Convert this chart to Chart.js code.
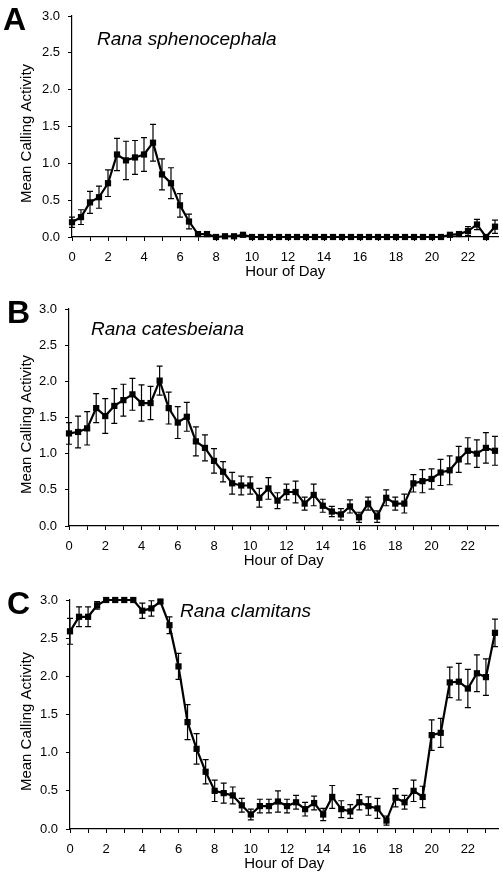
<!DOCTYPE html>
<html>
<head>
<meta charset="utf-8">
<script src="https://cdn.jsdelivr.net/npm/chart.js@4.4.1/dist/chart.umd.min.js"></script>
<style>
  body { margin: 0; background: #fff; width: 503px; height: 877px; overflow: hidden; position: relative; }
  canvas { position: absolute; left: 0; }
</style>
</head>
<body>
<canvas id="chartA" width="503" height="287" style="top:0px"></canvas>
<canvas id="chartB" width="503" height="283" style="top:293px"></canvas>
<canvas id="chartC" width="503" height="295" style="top:584px"></canvas>
<script>
// hour of day, every half hour
const hours = [0, 0.5, 1, 1.5, 2, 2.5, 3, 3.5, 4, 4.5, 5, 5.5, 6, 6.5, 7, 7.5,
               8, 8.5, 9, 9.5, 10, 10.5, 11, 11.5, 12, 12.5, 13, 13.5, 14, 14.5, 15, 15.5,
               16, 16.5, 17, 17.5, 18, 18.5, 19, 19.5, 20, 20.5, 21, 21.5, 22, 22.5, 23, 23.5];
const xTicks = [0, 2, 4, 6, 8, 10, 12, 14, 16, 18, 20, 22];
const yTicks = [0, 0.5, 1, 1.5, 2, 2.5, 3];

// Rana sphenocephala
const sphenoMean = [0.20, 0.27, 0.47, 0.54, 0.73, 1.12, 1.04, 1.08, 1.12, 1.28,
                    0.85, 0.73, 0.43, 0.21, 0.04, 0.04, 0.00, 0.01, 0.01, 0.03,
                    0.00, 0.00, 0.00, 0.00, 0.00, 0.00, 0.00, 0.00, 0.00, 0.00,
                    0.00, 0.00, 0.00, 0.00, 0.00, 0.00, 0.00, 0.00, 0.00, 0.00,
                    0.00, 0.00, 0.03, 0.04, 0.08, 0.17, 0.00, 0.14];
const sphenoErr = [0.07, 0.10, 0.15, 0.15, 0.18, 0.22, 0.26, 0.23, 0.23, 0.25,
                   0.21, 0.21, 0.16, 0.10, 0.02, 0.02, 0.00, 0.00, 0.00, 0.02,
                   0.00, 0.00, 0.00, 0.00, 0.00, 0.00, 0.00, 0.00, 0.00, 0.00,
                   0.00, 0.00, 0.00, 0.00, 0.00, 0.00, 0.00, 0.00, 0.00, 0.00,
                   0.00, 0.00, 0.01, 0.02, 0.06, 0.07, 0.00, 0.09];

// Rana catesbeiana
const catesMean = [1.28, 1.30, 1.35, 1.63, 1.52, 1.66, 1.74, 1.82, 1.70, 1.70,
                   2.01, 1.63, 1.43, 1.51, 1.17, 1.08, 0.90, 0.75, 0.59, 0.56,
                   0.56, 0.39, 0.52, 0.35, 0.47, 0.47, 0.31, 0.43, 0.28, 0.20,
                   0.16, 0.27, 0.12, 0.31, 0.13, 0.39, 0.31, 0.31, 0.59, 0.62,
                   0.65, 0.74, 0.77, 0.92, 1.04, 1.00, 1.08, 1.04];
const catesErr = [0.15, 0.22, 0.23, 0.20, 0.24, 0.24, 0.22, 0.22, 0.25, 0.23,
                  0.20, 0.22, 0.22, 0.20, 0.20, 0.18, 0.17, 0.14, 0.15, 0.13,
                  0.12, 0.13, 0.15, 0.11, 0.11, 0.15, 0.09, 0.15, 0.09, 0.07,
                  0.08, 0.09, 0.07, 0.09, 0.08, 0.11, 0.09, 0.13, 0.12, 0.16,
                  0.14, 0.18, 0.20, 0.18, 0.18, 0.19, 0.21, 0.20];

// Rana clamitans
const clamMean = [2.59, 2.78, 2.78, 2.93, 3.00, 3.00, 3.00, 3.00, 2.86, 2.89,
                  2.98, 2.67, 2.13, 1.40, 1.05, 0.75, 0.50, 0.47, 0.44, 0.31,
                  0.19, 0.30, 0.30, 0.36, 0.30, 0.35, 0.26, 0.34, 0.19, 0.42,
                  0.26, 0.23, 0.35, 0.30, 0.27, 0.11, 0.41, 0.35, 0.50, 0.42,
                  1.23, 1.26, 1.92, 1.93, 1.84, 2.04, 1.99, 2.57];
const clamErr = [0.17, 0.13, 0.13, 0.05, 0.00, 0.00, 0.00, 0.00, 0.10, 0.10,
                 0.02, 0.11, 0.17, 0.23, 0.20, 0.16, 0.14, 0.13, 0.11, 0.09,
                 0.07, 0.09, 0.09, 0.14, 0.09, 0.09, 0.09, 0.09, 0.08, 0.15,
                 0.11, 0.09, 0.10, 0.12, 0.13, 0.06, 0.12, 0.09, 0.14, 0.14,
                 0.20, 0.19, 0.20, 0.24, 0.25, 0.24, 0.24, 0.18];

const FONT = '"Liberation Sans", Arial, sans-serif';
Chart.defaults.font.family = FONT;
Chart.defaults.color = '#000';

// vertical error bars with small caps, drawn under the line
const errorBars = {
    id: 'errorBars',
    beforeDatasetsDraw(chart, args, opts) {
        const ctx = chart.ctx;
        const xs = chart.scales.x, ys = chart.scales.y;
        const means = chart.data.datasets[0].data;
        ctx.save();
        ctx.strokeStyle = '#000';
        ctx.lineWidth = 1.2;
        opts.errors.forEach((e, i) => {
            if (!e) return;
            const x = xs.getPixelForValue(means[i].x);
            const top = ys.getPixelForValue(means[i].y + e);
            const bot = ys.getPixelForValue(means[i].y - e);
            ctx.beginPath();
            ctx.moveTo(x, top); ctx.lineTo(x, bot);
            ctx.moveTo(x - 3, top); ctx.lineTo(x + 3, top);
            ctx.moveTo(x - 3, bot); ctx.lineTo(x + 3, bot);
            ctx.stroke();
        });
        ctx.restore();
    }
};

// panel letter, species name and y axis title (sits a bit below the axis middle)
const panelText = {
    id: 'panelText',
    afterDraw(chart, args, opts) {
        const ctx = chart.ctx;
        const area = chart.chartArea;
        ctx.save();
        ctx.fillStyle = '#000';
        ctx.textBaseline = 'alphabetic';
        ctx.font = 'bold 32px ' + FONT;
        ctx.fillText(opts.letter, opts.letterX, 30);
        ctx.font = 'italic 19px ' + FONT;
        ctx.fillText(opts.species, opts.speciesX, opts.speciesY);
        ctx.translate(27, (area.top + area.bottom) / 2 + 7);
        ctx.rotate(-Math.PI / 2);
        ctx.textAlign = 'center';
        ctx.textBaseline = 'middle';
        ctx.font = '15px ' + FONT;
        ctx.fillText('Mean Calling Activity', 0, 0);
        ctx.restore();
    }
};

function makePanel(id, means, errs, letter, species, cfg) {
    const ctx = document.getElementById(id).getContext('2d');
    return new Chart(ctx, {
        type: 'line',
        data: {
            datasets: [{
                data: hours.map((h, i) => ({ x: h, y: means[i] })),
                borderColor: '#000',
                borderWidth: 2.2,
                tension: 0,
                pointStyle: 'rect',
                pointRadius: 4.4,
                pointBackgroundColor: '#000',
                pointBorderWidth: 0,
                clip: false
            }]
        },
        options: {
            responsive: false,
            animation: false,
            devicePixelRatio: 1,
            layout: { padding: { top: 16, left: 0, right: 0, bottom: 0 } },
            plugins: {
                legend: { display: false },
                tooltip: { enabled: false },
                errorBars: { errors: errs },
                panelText: { letter: letter, letterX: cfg.letterX, species: species,
                             speciesX: cfg.speciesX, speciesY: cfg.speciesY }
            },
            scales: {
                x: {
                    type: 'linear',
                    min: 0,
                    max: 23.7,
                    ticks: {
                        stepSize: 1,
                        autoSkip: false,
                        maxRotation: 0,
                        includeBounds: false,
                        padding: 9,
                        color: '#000',
                        font: { size: 13 },
                        callback: v => xTicks.includes(v) ? String(v) : ''
                    },
                    grid: { drawOnChartArea: false, drawTicks: true, tickLength: 4, color: '#000' },
                    border: { display: true, color: '#000', width: 1.2 },
                    title: { display: true, text: 'Hour of Day', font: { size: 15 },
                             color: '#000', padding: { top: 0, bottom: 6 } },
                    afterFit: s => { s.height = 50; }
                },
                y: {
                    min: 0,
                    max: 3,
                    afterBuildTicks: s => { s.ticks = yTicks.map(v => ({ value: v })); },
                    ticks: {
                        padding: 8,
                        color: '#000',
                        font: { size: 13 },
                        callback: v => v.toFixed(1)
                    },
                    grid: { drawOnChartArea: false, drawTicks: true, tickLength: 4, color: '#000' },
                    border: { display: true, color: '#000', width: 1.2 },
                    afterFit: s => { s.width = cfg.axisLeft; }
                }
            }
        },
        plugins: [errorBars, panelText]
    });
}

document.addEventListener('DOMContentLoaded', function() {
    makePanel('chartA', sphenoMean, sphenoErr, 'A', 'Rana sphenocephala',
              { axisLeft: 72, letterX: 3, speciesX: 97, speciesY: 45 });
    makePanel('chartB', catesMean, catesErr, 'B', 'Rana catesbeiana',
              { axisLeft: 69, letterX: 7, speciesX: 91, speciesY: 42 });
    makePanel('chartC', clamMean, clamErr, 'C', 'Rana clamitans',
              { axisLeft: 70, letterX: 7, speciesX: 180, speciesY: 33 });
});
</script>
</body>
</html>
